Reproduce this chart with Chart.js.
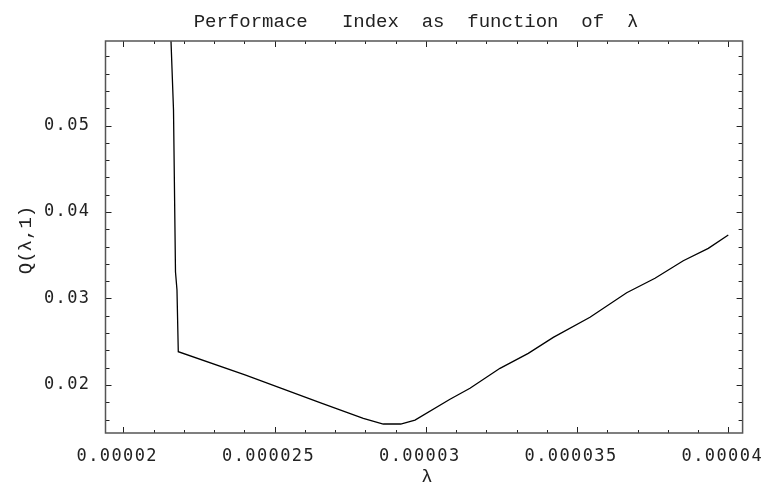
<!DOCTYPE html>
<html lang="en">
<head>
<meta charset="UTF-8">
<title>Performace Index as function of lambda</title>
<style>
  html, body { margin: 0; padding: 0; background: #fff; }
</style>
<script src="https://cdn.jsdelivr.net/npm/chart.js"></script>
</head>
<body>
<canvas id="chart" width="764" height="486"></canvas>
<script>
// values
var lambdaValues = [0.000021577, 0.00002166, 0.000021726, 0.000021775, 0.000021818,
    0.000024023, 0.000026502, 0.000027934, 0.000028595, 0.00002917, 0.000029643,
    0.0000308, 0.000031461, 0.000032453, 0.000033388, 0.000034215, 0.000035428,
    0.000036641, 0.000037577, 0.000038512, 0.000039339, 0.00004];
var qValues = [0.0598, 0.0518, 0.03306, 0.03098, 0.02385,
    0.02116, 0.01795, 0.01615, 0.01549, 0.01549, 0.01595,
    0.01835, 0.01962, 0.02193, 0.02366, 0.02551, 0.02783,
    0.03067, 0.03234, 0.03437, 0.0358, 0.03734];

var xTicks = [0.00002, 0.000025, 0.00003, 0.000035, 0.00004];
var xTickLabels = ['0.00002', '0.000025', '0.00003', '0.000035', '0.00004'];
var yTicks = [0.02, 0.03, 0.04, 0.05];
var yTickLabels = ['0.02', '0.03', '0.04', '0.05'];
var xMinorStep = 0.000001;
var yMinorStep = 0.002;

var tickFont = { family: '"DejaVu Sans Mono", monospace', size: 17 };

// frame with inward ticks on all four sides, like a Mathematica Frame
var framePlugin = {
    id: 'frame',
    beforeDraw: function (chart) {
        chart.ctx.letterSpacing = '1.4px';
    },
    afterDatasetsDraw: function (chart) {
        var ctx = chart.ctx, a = chart.chartArea;
        var xs = chart.scales.x, ys = chart.scales.y;
        ctx.save();
        ctx.strokeStyle = '#222';
        ctx.lineWidth = 1;
        ctx.beginPath();
        var kx0 = Math.ceil(xs.min / xMinorStep), kx1 = Math.floor(xs.max / xMinorStep);
        for (var i = kx0; i <= kx1; i++) {
            var len = i % 5 === 0 ? 6 : 3;
            var px = Math.round(xs.getPixelForValue(i * xMinorStep)) + 0.5;
            ctx.moveTo(px, a.bottom); ctx.lineTo(px, a.bottom - len);
            ctx.moveTo(px, a.top); ctx.lineTo(px, a.top + len);
        }
        var ky0 = Math.ceil(ys.min / yMinorStep), ky1 = Math.floor(ys.max / yMinorStep);
        for (var j = ky0; j <= ky1; j++) {
            var ylen = j % 5 === 0 ? 6 : 4;
            var py = Math.round(ys.getPixelForValue(j * yMinorStep)) + 0.5;
            ctx.moveTo(a.left, py); ctx.lineTo(a.left + ylen, py);
            ctx.moveTo(a.right, py); ctx.lineTo(a.right - ylen, py);
        }
        ctx.stroke();
        ctx.strokeStyle = '#555';
        ctx.lineWidth = 1.5;
        ctx.strokeRect(a.left, a.top, a.right - a.left, a.bottom - a.top);

        // title and axis labels
        ctx.letterSpacing = '0px';
        ctx.fillStyle = '#222';
        ctx.font = '19px "Liberation Mono", monospace';
        ctx.textAlign = 'center';
        ctx.textBaseline = 'alphabetic';
        ctx.fillText('Performace   Index  as  function  of  \u03bb', 416, 27);
        ctx.textBaseline = 'middle';
        ctx.fillText('\u03bb', 427, 477);
        ctx.translate(26, 240);
        ctx.rotate(-Math.PI / 2);
        ctx.fillText('Q(\u03bb,1)', 0, 0);
        ctx.restore();
    }
};

var points = lambdaValues.map(function (x, i) { return { x: x, y: qValues[i] }; });

new Chart(document.getElementById('chart'), {
    type: 'scatter',
    data: {
        datasets: [{
            data: points,
            showLine: true,
            borderColor: '#000',
            borderWidth: 1.3,
            pointRadius: 0,
            tension: 0,
            fill: false
        }]
    },
    options: {
        responsive: false,
        animation: false,
        devicePixelRatio: 1,
        layout: { padding: { top: 41, right: 21.4, left: 0, bottom: 0 } },
        plugins: { legend: { display: false }, title: { display: false }, tooltip: { enabled: false } },
        scales: {
            x: {
                type: 'linear',
                min: 0.000019412,
                max: 0.000040473,
                grid: { display: false, drawTicks: false },
                border: { display: false },
                afterBuildTicks: function (s) { s.ticks = xTicks.map(function (v) { return { value: v }; }); },
                afterFit: function (s) { s.height = 53; s.paddingLeft = 0; s.paddingRight = 0; },
                ticks: {
                    font: tickFont,
                    color: '#222',
                    padding: 13,
                    labelOffset: -6,
                    maxRotation: 0,
                    autoSkip: false,
                    callback: function (value, index) { return xTickLabels[index]; }
                }
            },
            y: {
                type: 'linear',
                min: 0.01445,
                max: 0.05977,
                grid: { display: false, drawTicks: false },
                border: { display: false },
                afterBuildTicks: function (s) { s.ticks = yTicks.map(function (v) { return { value: v }; }); },
                afterFit: function (s) { s.width = 105.5; s.paddingTop = 0; s.paddingBottom = 0; },
                ticks: {
                    font: tickFont,
                    color: '#222',
                    padding: 15,
                    autoSkip: false,
                    callback: function (value, index) { return yTickLabels[index]; }
                }
            }
        }
    },
    plugins: [framePlugin]
});
</script>
</body>
</html>
